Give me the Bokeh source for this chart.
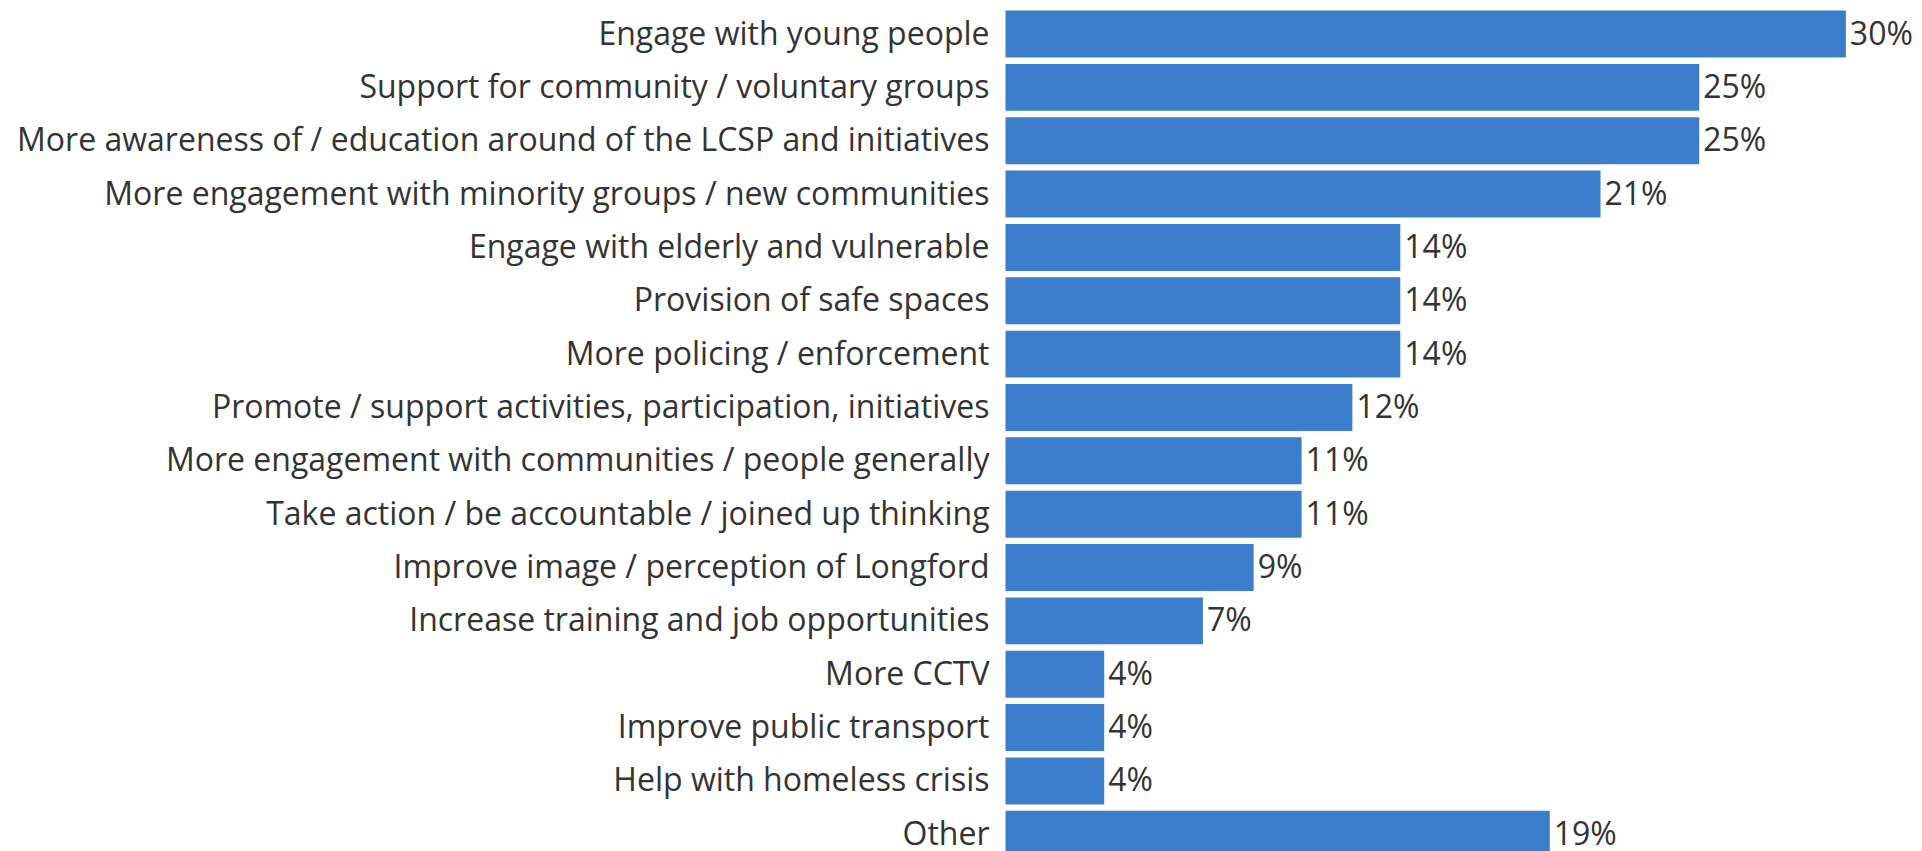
from bokeh.plotting import figure
from bokeh.models import ColumnDataSource, Range1d
from bokeh.core.properties import value
from bokeh.embed import file_html
from bokeh.resources import INLINE

categories = [
    "Engage with young people",
    "Support for community / voluntary groups",
    "More awareness of / education around of the LCSP and initiatives",
    "More engagement with minority groups / new communities",
    "Engage with elderly and vulnerable",
    "Provision of safe spaces",
    "More policing / enforcement",
    "Promote / support activities, participation, initiatives",
    "More engagement with communities / people generally",
    "Take action / be accountable / joined up thinking",
    "Improve image / perception of Longford",
    "Increase training and job opportunities",
    "More CCTV",
    "Improve public transport",
    "Help with homeless crisis",
    "Other",
]
percent_values = [29.8, 24.6, 24.6, 21.1, 14.0, 14.0, 14.0, 12.3, 10.5, 10.5, 8.8, 7.0, 3.5, 3.5, 3.5, 19.3]
value_labels = ["30%", "25%", "25%", "21%", "14%", "14%", "14%", "12%", "11%", "11%", "9%", "7%", "4%", "4%", "4%", "19%"]

positions = list(range(len(categories)))
source = ColumnDataSource(dict(
    y=positions,
    v=percent_values,
    cat=categories,
    lab=value_labels,
    zero=[0.0] * len(categories),
))

W, H = 1922, 851
frame_left_px = 1005
px_per_pct = 28.2
x_start = -frame_left_px / px_per_pct
x_end = (W - frame_left_px) / px_per_pct

p = figure(width=W, height=H, output_backend="svg", toolbar_location=None,
           x_range=Range1d(x_start, x_end),
           y_range=Range1d(15.323, -0.628),
           min_border=0, min_border_left=0, min_border_right=0,
           min_border_top=0, min_border_bottom=0)
p.axis.visible = False
p.grid.visible = False
p.outline_line_color = None
p.background_fill_color = "white"
p.border_fill_color = "white"

p.hbar(y="y", left="zero", right="v", height=0.88, source=source,
       fill_color="#3d7ecc", line_color=None)

p.text(x="zero", y="y", text="cat", source=source, x_offset=-16, y_offset=-2,
       text_align="right", text_baseline="middle",
       text_font=value("Open Sans"), text_font_size="32px", text_color="#333333")

p.text(x="v", y="y", text="lab", source=source, x_offset=4, y_offset=-2,
       text_align="left", text_baseline="middle",
       text_font=value("Open Sans"), text_font_size="32px", text_color="#333333")

open("out.html", "w").write(file_html(p, INLINE))
